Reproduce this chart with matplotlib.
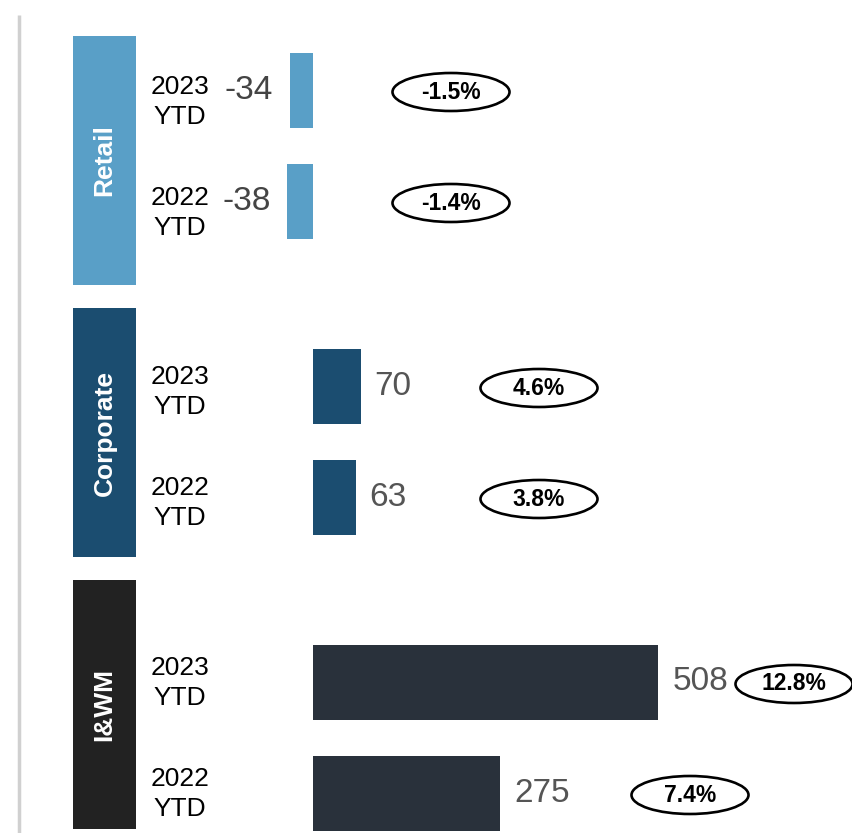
import matplotlib.pyplot as plt
from matplotlib.patches import Rectangle, Ellipse

plt.rcParams["font.family"] = ["Liberation Sans", "DejaVu Sans"]

# segments, periods and values
segments = ["Retail", "Corporate", "I&WM"]
periods = ["2023\nYTD", "2022\nYTD"]
values = [[-34, -38], [70, 63], [508, 275]]
growth = [["-1.5%", "-1.4%"], ["4.6%", "3.8%"], ["12.8%", "7.4%"]]

box_colors = ["#599fc7", "#1b4d70", "#222222"]
bar_colors = ["#599fc7", "#1b4d70", "#29313b"]

# layout in pixels: segment boxes, period label nudges, growth badges
box_top = [36, 308, 580]
label_dy = [12, 6, 1]
badge_x = [[451, 451], [539, 539], [794, 690]]

W, H = 853, 833
zero_px, px_per_unit = 313, 0.68

fig = plt.figure(figsize=(W / 100, H / 100), dpi=100)

# decoration layer in pixel coordinates
deco = fig.add_axes([0, 0, 1, 1])
deco.set_xlim(0, W)
deco.set_ylim(H, 0)
deco.axis("off")

# bar layer: x in data units, y in pixels
ax = fig.add_axes([0, 0, 1, 1])
ax.set_xlim(-zero_px / px_per_unit, (W - zero_px) / px_per_unit)
ax.set_ylim(H, 0)
ax.axis("off")
ax.patch.set_alpha(0)

deco.plot([19, 19], [15, H], color="#d0d0d0", lw=2.5, solid_capstyle="butt")

group_top, group_step, row_step = 90, 296, 111
for g, seg in enumerate(segments):
    y0 = group_top + g * group_step
    deco.add_patch(Rectangle((73, box_top[g]), 63, 249, color=box_colors[g], lw=0))
    deco.text(104.5, box_top[g] + 124.5, seg, rotation=90, ha="center", va="center",
              color="white", fontsize=19, fontweight="bold")
    for r in range(2):
        y = y0 + r * row_step
        v = values[g][r]
        ax.barh(y, v, height=75, color=bar_colors[g], lw=0)
        deco.text(180, y + label_dy[g], periods[r], ha="center", va="center",
                  fontsize=19, color="black", linespacing=1.35)
        if v < 0:
            ax.annotate(str(v), (v, y), xytext=(-12, 0), textcoords="offset points",
                        ha="right", va="center", fontsize=24, color="#444444")
        else:
            ax.annotate(str(v), (v, y), xytext=(10, 0), textcoords="offset points",
                        ha="left", va="center", fontsize=24, color="#555555")
        bx = badge_x[g][r]
        deco.add_patch(Ellipse((bx, y + 2), 117, 38, fill=False,
                               edgecolor="black", lw=1.9))
        deco.text(bx, y + 2, growth[g][r], ha="center", va="center",
                  fontsize=16.5, fontweight="bold", color="black")

fig.savefig("out.png", dpi=100)
